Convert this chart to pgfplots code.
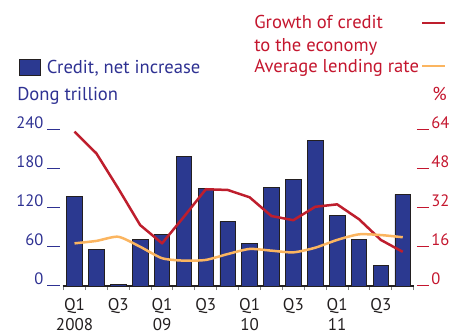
\documentclass[border=0pt]{standalone}
\usepackage{fontspec}
\setmainfont{PT Sans}
\usepackage{pgfplots}
\pgfplotsset{compat=1.18}

\definecolor{barblue}{HTML}{2B3990}
\definecolor{textblue}{HTML}{2E3192}
\definecolor{textred}{HTML}{C4162E}
\definecolor{linered}{HTML}{BE1E2D}
\definecolor{lineorange}{HTML}{FBB560}
\definecolor{axisgray}{HTML}{231F20}

\newcommand\legfont{\fontsize{18.6}{22.6}\selectfont}
\newcommand\tickfont{\fontsize{16.5}{19}\selectfont}

\pgfplotsset{
  every axis/.append style={
    scale only axis, width=351pt, height=156pt,
    xmin=-0.54, xmax=15.5, clip=false,
    /pgf/number format/assume math mode=true,
  },
}

\begin{document}
\begin{tikzpicture}[font=\legfont]
% credit, net increase (dong trillion)
\begin{axis}[
    name=ax,
    ymin=0, ymax=240,
    axis x line*=bottom, axis y line*=left,
    x axis line style={line width=1.8pt, draw=axisgray},
    y axis line style={draw=none},
    ytick={0,60,...,240},
    ytick style={draw=none},
    yticklabel={\pgfmathprintnumber{\tick}\hspace{4pt}\rule[-1.7pt]{12.5pt}{0.9pt}},
    yticklabel style={anchor=base east, inner sep=0pt, xshift=-2.7pt, yshift=1.5pt,
      text=textblue, font=\tickfont},
    xtick={0,2,...,14},
    xticklabels={{Q1\\2008},Q3,{Q1\\09},Q3,{Q1\\10},Q3,{Q1\\11},Q3},
    xticklabel style={align=center, anchor=north, inner sep=0pt, yshift=-7.5pt,
      text=axisgray, font=\fontsize{17}{20}\selectfont},
    major x tick style={draw=none},
    minor xtick={-0.5,0.5,...,15.5},
    minor tick length=4pt,
    minor x tick style={draw=gray, line width=1pt},
    tick align=inside,
    ybar, bar width=15.6pt,
    legend style={at={(-0.1245,1.399)}, anchor=west, draw=none, fill=none,
      inner sep=0pt, nodes={text=textblue}},
    legend image code/.code={\draw[#1] (0pt,-8pt) rectangle (21pt,8pt);},
  ]
  \addplot[fill=barblue, draw=axisgray, line width=0.7pt] coordinates {
    (0,137.4) (1,56.9) (2,3) (3,72.3) (4,80) (5,200) (6,150.3) (7,99.5)
    (8,65.7) (9,151.8) (10,164) (11,224.6) (12,109.2) (13,71.8) (14,31.2) (15,141)
  };
  \addlegendentry{\hspace{4pt}Credit, net increase}
  \node[anchor=base west, text=textblue, inner sep=0pt] at (axis description cs:-0.130,1.192) {Dong trillion};
\end{axis}
% growth of credit and average lending rate (%)
\begin{axis}[
    ymin=0, ymax=64,
    axis x line=none, axis y line*=right,
    y axis line style={draw=none},
    ytick={0,16,...,64},
    ytick style={draw=none},
    yticklabel={\rule[-1.7pt]{12.5pt}{0.9pt}\hspace{2pt}\pgfmathprintnumber{\tick}},
    yticklabel style={anchor=base west, inner sep=0pt, xshift=3pt, yshift=1.5pt,
      text=textred, font=\tickfont},
    legend plot pos=right,
    legend cell align=left,
    legend style={at={(1.094,1.748)}, anchor=north east, draw=none, fill=none,
      inner sep=0pt, row sep=2pt, nodes={text=textred, align=left}},
    legend image code/.code={\draw[#1] (0pt,0pt) -- (23pt,0pt);},
  ]
  \addplot[linered, line width=2.5pt, line join=round,
    legend image post style={yshift=11pt}] coordinates {
    (0,63.3) (1,54.4) (2,40) (3,25) (4,17.5) (5,28.4) (6,39.7) (7,39.4)
    (8,36.4) (9,28.7) (10,27) (11,32.5) (12,33.5) (13,27.4) (14,18.9) (15,14)
  };
  \addlegendentry{Growth of credit\\to the economy}
  \addplot[lineorange, line width=2.5pt, smooth, tension=0.4] coordinates {
    (0,17.5) (1,18.5) (2,20.2) (3,16.1) (4,11.4) (5,10.4) (6,10.7) (7,13.1)
    (8,15.2) (9,14.5) (10,13.8) (11,15.7) (12,18.9) (13,21.2) (14,20.9) (15,20)
  };
  \addlegendentry{Average lending rate}
  \node[anchor=base east, text=textred, inner sep=0pt] at (axis description cs:1.0949,1.192) {\%};
\end{axis}
\pgfresetboundingbox
\path[use as bounding box] ([xshift=-62.7pt,yshift=-49pt]ax.south west) rectangle ([xshift=42.3pt,yshift=130pt]ax.north east);
\end{tikzpicture}
\end{document}
